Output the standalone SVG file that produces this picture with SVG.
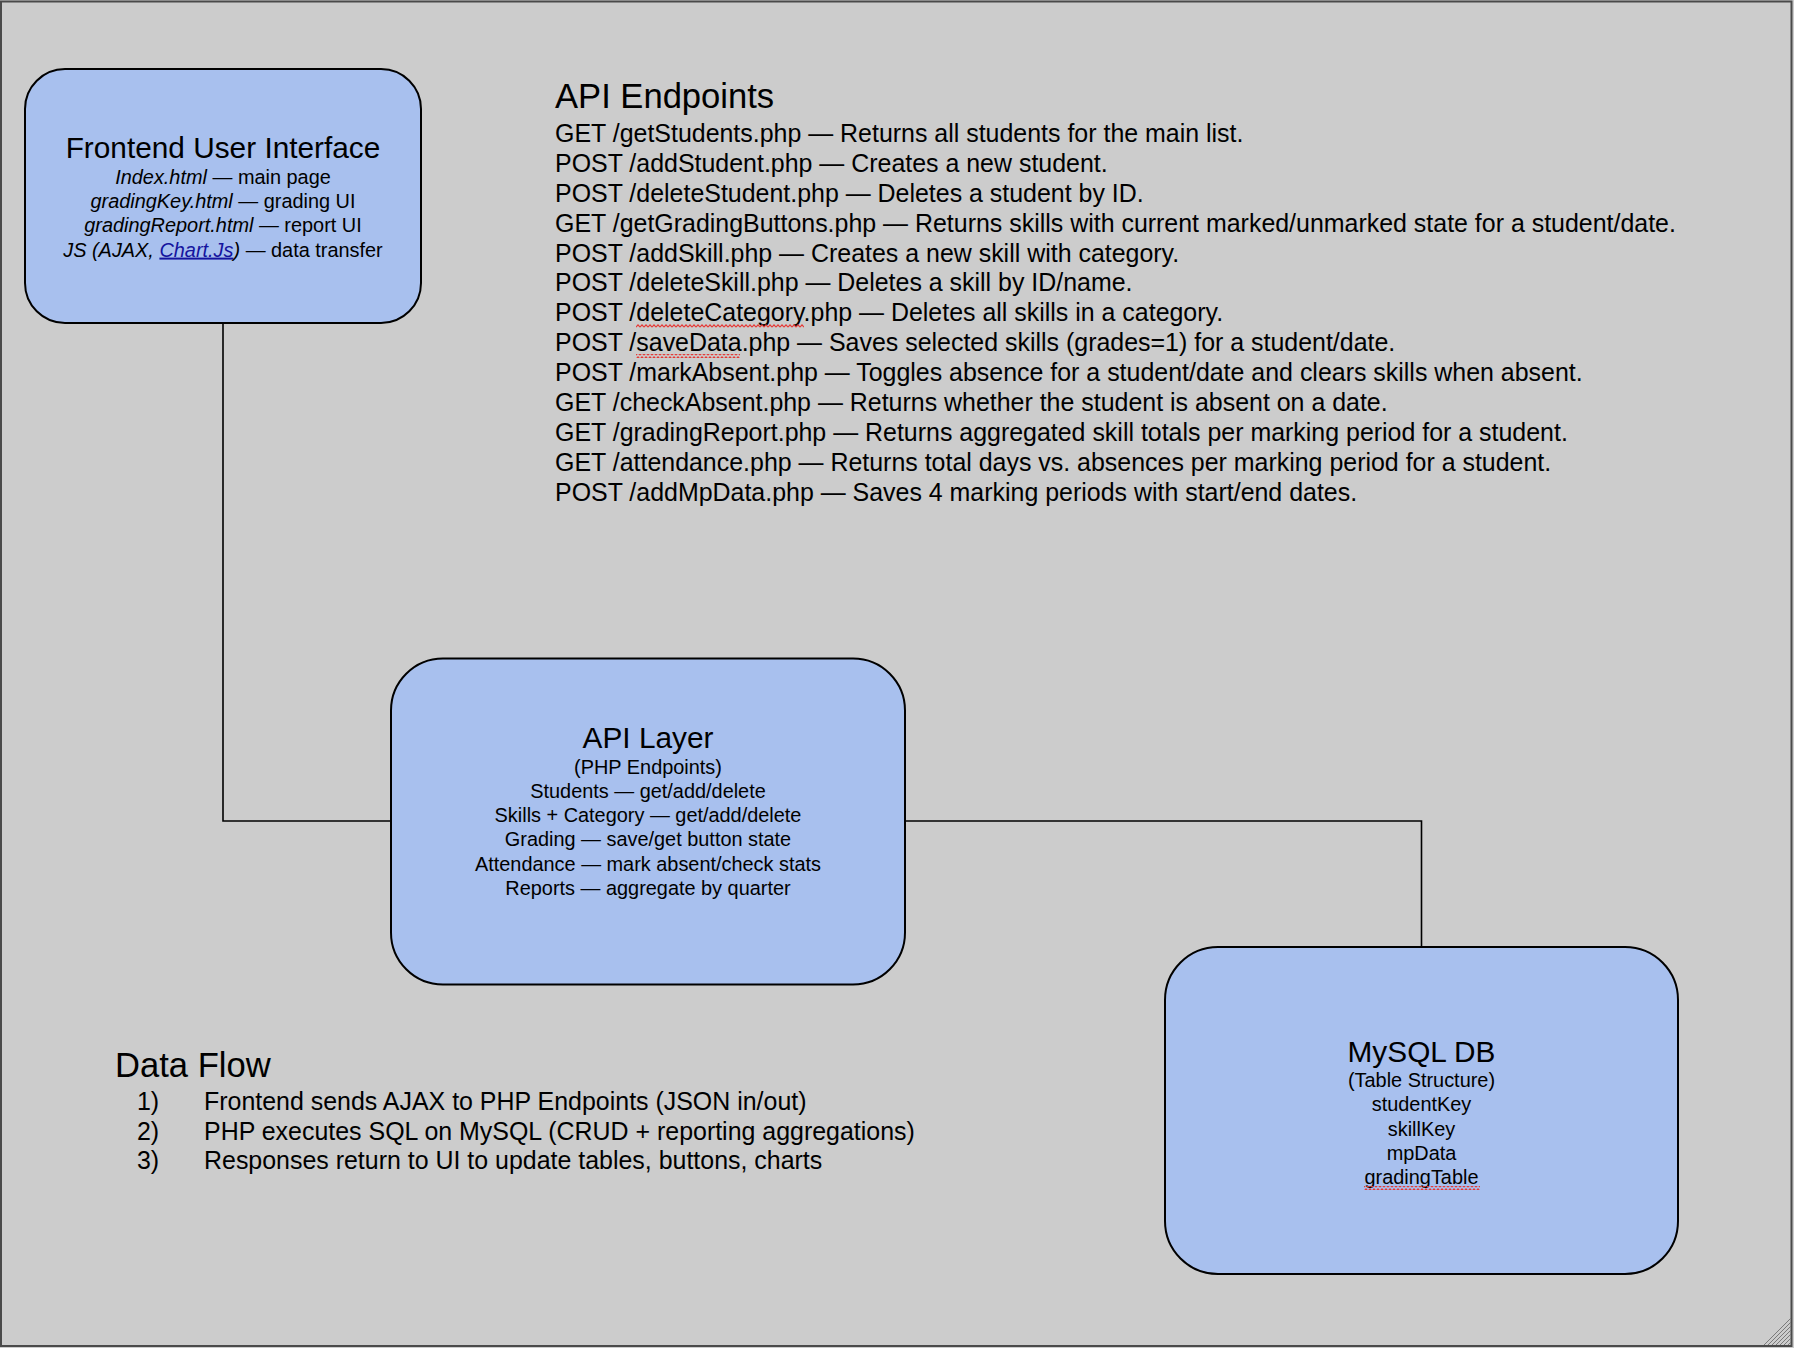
<svg xmlns="http://www.w3.org/2000/svg" width="1794" height="1348" viewBox="0 0 1794 1348">
<style>
.node{fill:#a8c0ee;stroke:#000;stroke-width:2}
.conn{fill:none;stroke:#000;stroke-width:1.6}
text{font-family:"Liberation Sans",Arial,sans-serif;fill:#000}
.ntitle{font-size:29.8px;text-anchor:middle}
.nsub{font-size:19.9px;text-anchor:middle}
.stitle{font-size:34.6px}
.body{font-size:24.95px}
.it{font-style:italic}
.link{fill:#14149e;text-decoration:underline}
</style>
<defs>
<pattern id="squiggle" width="4" height="4" patternUnits="userSpaceOnUse">
<path d="M0,3.2 L2,0.8 L4,3.2" fill="none" stroke="#e53935" stroke-width="1.1"/>
</pattern>
</defs>
<rect x="0" y="0" width="1794" height="1348" fill="#cccccc"/>
<rect x="1" y="1.5" width="1790.5" height="1344.5" fill="none" stroke="#4a4a4a" stroke-width="2"/>
<g id="resize-grip" stroke="#7a7a7a" stroke-width="1">
<line x1="1788" y1="1345" x2="1791" y2="1342"/>
<line x1="1784" y1="1345" x2="1791" y2="1338"/>
<line x1="1780" y1="1345" x2="1791" y2="1334"/>
<line x1="1776" y1="1345" x2="1791" y2="1330"/>
<line x1="1772" y1="1345" x2="1791" y2="1326"/>
<line x1="1768" y1="1345" x2="1791" y2="1322"/>
<line x1="1764" y1="1345" x2="1791" y2="1318"/>
</g>
<g id="connectors">
<path class="conn" d="M223,322.6 V821 H391"/>
<path class="conn" d="M905,821 H1421.5 V947"/>
</g>
<g id="frontend">
<rect class="node" x="25" y="69" width="396" height="254" rx="40" ry="40"/>
<text class="ntitle" x="223" y="157.5">Frontend User Interface</text>
<text class="nsub" x="223" y="183.8"><tspan class="it">Index.html</tspan> — main page</text>
<text class="nsub" x="223" y="208.2"><tspan class="it">gradingKey.html</tspan> — grading UI</text>
<text class="nsub" x="223" y="232.4"><tspan class="it">gradingReport.html</tspan> — report UI</text>
<text class="nsub" x="223" y="256.6"><tspan class="it">JS (AJAX, </tspan><tspan class="it link">Chart.Js</tspan><tspan class="it">)</tspan> — data transfer</text>
</g>
<g id="api-layer">
<rect class="node" x="391" y="658.5" width="514" height="326" rx="52" ry="52"/>
<text class="ntitle" x="648" y="748">API Layer</text>
<text class="nsub" x="648" y="773.5">(PHP Endpoints)</text>
<text class="nsub" x="648" y="797.7">Students — get/add/delete</text>
<text class="nsub" x="648" y="822">Skills + Category — get/add/delete</text>
<text class="nsub" x="648" y="846.4">Grading — save/get button state</text>
<text class="nsub" x="648" y="870.7">Attendance — mark absent/check stats</text>
<text class="nsub" x="648" y="895">Reports — aggregate by quarter</text>
</g>
<g id="mysql-db">
<rect class="node" x="1165" y="947" width="513" height="327" rx="53" ry="53"/>
<text class="ntitle" x="1421.5" y="1061.5">MySQL DB</text>
<text class="nsub" x="1421.5" y="1087.2">(Table Structure)</text>
<text class="nsub" x="1421.5" y="1111.4">studentKey</text>
<text class="nsub" x="1421.5" y="1135.6">skillKey</text>
<text class="nsub" x="1421.5" y="1160.4">mpData</text>
<text class="nsub" x="1421.5" y="1184.4">gradingTable</text>
<rect x="1364" y="1186" width="116" height="4" fill="url(#squiggle)"/>
</g>
<g id="api-endpoints">
<text class="stitle" x="555" y="108.3">API Endpoints</text>
<text class="body" x="555" y="141.7">GET /getStudents.php — Returns all students for the main list.</text>
<text class="body" x="555" y="171.6">POST /addStudent.php — Creates a new student.</text>
<text class="body" x="555" y="201.6">POST /deleteStudent.php — Deletes a student by ID.</text>
<text class="body" x="555" y="231.5">GET /getGradingButtons.php — Returns skills with current marked/unmarked state for a student/date.</text>
<text class="body" x="555" y="261.5">POST /addSkill.php — Creates a new skill with category.</text>
<text class="body" x="555" y="291.4">POST /deleteSkill.php — Deletes a skill by ID/name.</text>
<text class="body" x="555" y="321.3">POST /deleteCategory.php — Deletes all skills in a category.</text>
<text class="body" x="555" y="351.3">POST /saveData.php — Saves selected skills (grades=1) for a student/date.</text>
<text class="body" x="555" y="381.2">POST /markAbsent.php — Toggles absence for a student/date and clears skills when absent.</text>
<text class="body" x="555" y="411.2">GET /checkAbsent.php — Returns whether the student is absent on a date.</text>
<text class="body" x="555" y="441.1">GET /gradingReport.php — Returns aggregated skill totals per marking period for a student.</text>
<text class="body" x="555" y="471.0">GET /attendance.php — Returns total days vs. absences per marking period for a student.</text>
<text class="body" x="555" y="501.0">POST /addMpData.php — Saves 4 marking periods with start/end dates.</text>
<rect x="636" y="324" width="168" height="4" fill="url(#squiggle)"/>
<rect x="636" y="354" width="104" height="4" fill="url(#squiggle)"/>
</g>
<g id="data-flow">
<text class="stitle" x="115" y="1076.7">Data Flow</text>
<text class="body" x="137" y="1110">1)</text>
<text class="body" x="204" y="1110">Frontend sends AJAX to PHP Endpoints (JSON in/out)</text>
<text class="body" x="137" y="1139.6">2)</text>
<text class="body" x="204" y="1139.6">PHP executes SQL on MySQL (CRUD + reporting aggregations)</text>
<text class="body" x="137" y="1169.2">3)</text>
<text class="body" x="204" y="1169.2">Responses return to UI to update tables, buttons, charts</text>
</g>
</svg>
